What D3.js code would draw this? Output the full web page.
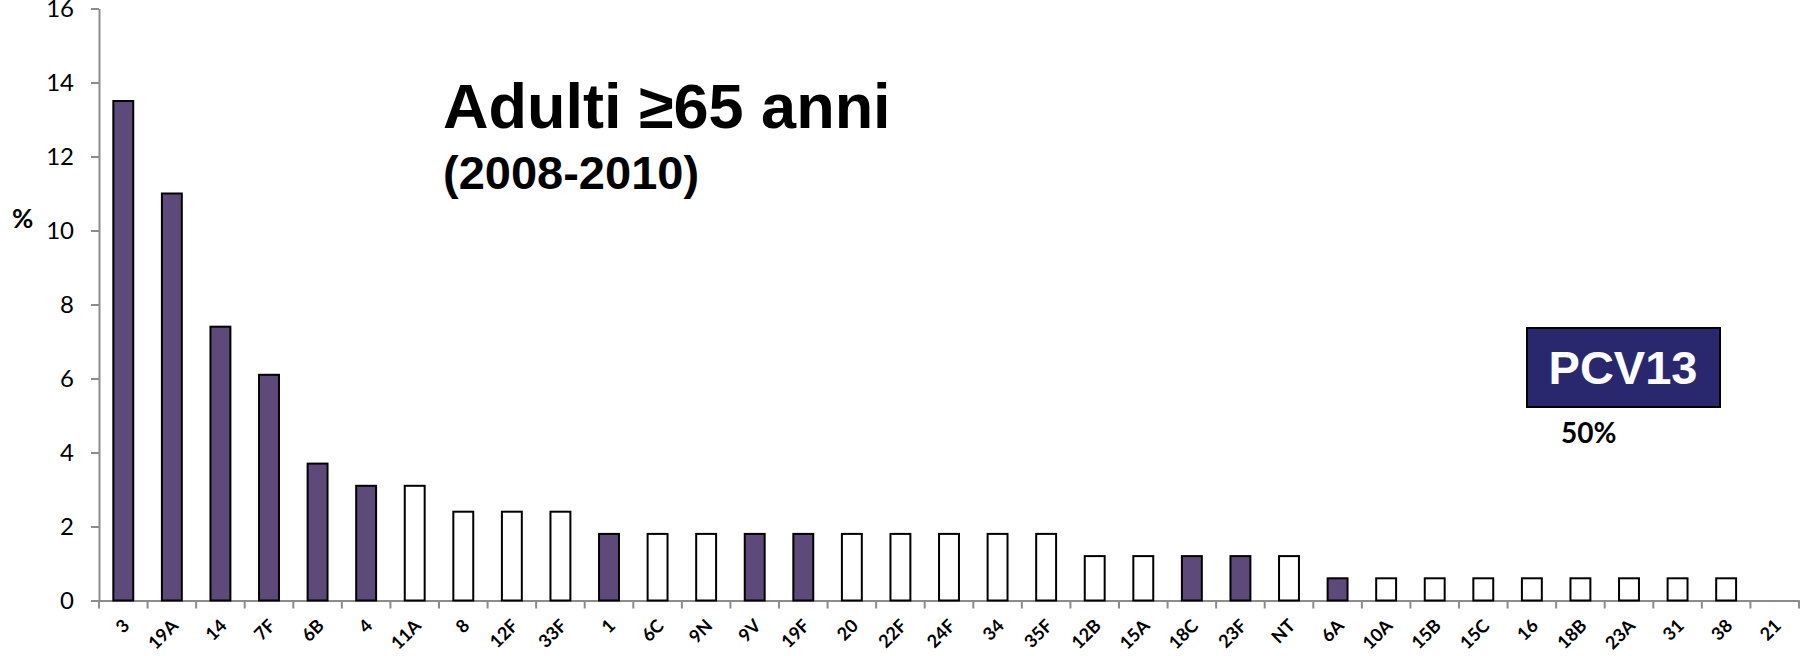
<!DOCTYPE html>
<html lang="it">
<head>
    <meta charset="UTF-8">
    <title>Adulti ≥65 anni (2008-2010)</title>
    <script src="https://cdn.jsdelivr.net/npm/d3@7/dist/d3.min.js"></script>
    <style>
        body {
            margin: 0;
            background: #fff;
        }

        svg {
            display: block;
        }

        .axis path,
        .axis line {
            stroke: #8c8c8c;
            stroke-width: 2px;
        }

        .y-axis text {
            font-family: Lato, "Open Sans", sans-serif;
            font-size: 24px;
            fill: #000;
        }

        .x-axis text {
            font-family: Lato, "Open Sans", sans-serif;
            font-size: 18px;
            font-weight: bold;
            fill: #000;
        }

        .bar {
            stroke: #000;
            stroke-width: 2px;
        }
    </style>
</head>
<body>
<script>
    // serotypes, in the order they appear on the axis
    const serotypes = ["3", "19A", "14", "7F", "6B", "4", "11A", "8", "12F", "33F",
        "1", "6C", "9N", "9V", "19F", "20", "22F", "24F", "34", "35F",
        "12B", "15A", "18C", "23F", "NT", "6A", "10A", "15B", "15C", "16",
        "18B", "23A", "31", "38", "21"];

    // percentage of isolates
    const percent = [13.5, 11.0, 7.4, 6.1, 3.7, 3.1, 3.1, 2.4, 2.4, 2.4,
        1.8, 1.8, 1.8, 1.8, 1.8, 1.8, 1.8, 1.8, 1.8, 1.8,
        1.2, 1.2, 1.2, 1.2, 1.2, 0.6, 0.6, 0.6, 0.6, 0.6,
        0.6, 0.6, 0.6, 0.6, 0];

    // serotypes covered by PCV13 (filled bars)
    const pcv13 = ["3", "19A", "14", "7F", "6B", "4", "1", "9V", "19F", "18C", "23F", "6A"];

    const yTicks = [0, 2, 4, 6, 8, 10, 12, 14, 16];

    const data = serotypes.map((s, i) => ({ serotype: s, value: percent[i] }));

    const width = 1806;
    const height = 656;

    const svg = d3.select("body").append("svg")
        .attr("width", width)
        .attr("height", height);

    const x = d3.scaleBand()
        .domain(serotypes)
        .range([99, 1799])
        .paddingInner(0.59)
        .paddingOuter(0.295);

    const y = d3.scaleLinear()
        .domain([0, 16])
        .range([600.5, 8.5]);

    // y axis
    svg.append("g")
        .attr("class", "axis y-axis")
        .attr("transform", "translate(99,0)")
        .call(d3.axisLeft(y).tickValues(yTicks).tickSize(8).tickPadding(17).tickSizeOuter(0));

    // x axis: labels under each bar, tick marks on the band boundaries
    const step = x.step();
    const xAxis = svg.append("g")
        .attr("class", "axis x-axis")
        .attr("transform", "translate(0," + y(0) + ")")
        .call(d3.axisBottom(x).tickSize(0).tickSizeOuter(0));

    xAxis.selectAll(".tick text")
        .attr("x", 0)
        .attr("y", 0)
        .attr("dy", "0.35em")
        .attr("text-anchor", "end")
        .attr("transform", "translate(3,22) rotate(-45)");

    xAxis.selectAll(".boundary")
        .data(d3.range(serotypes.length + 1))
        .enter().append("line")
        .attr("class", "boundary")
        .attr("x1", i => x.range()[0] + i * step)
        .attr("x2", i => x.range()[0] + i * step)
        .attr("y1", 0)
        .attr("y2", 8);

    // bars
    svg.append("g")
        .selectAll("rect")
        .data(data)
        .enter().append("rect")
        .attr("class", "bar")
        .attr("x", d => x(d.serotype))
        .attr("width", x.bandwidth())
        .attr("y", d => y(d.value))
        .attr("height", d => y(0) - y(d.value))
        .attr("fill", d => pcv13.includes(d.serotype) ? "#5e4a7a" : "#fff")
        .style("display", d => d.value > 0 ? null : "none");

    // y axis title
    svg.append("text")
        .attr("x", 12)
        .attr("y", 228)
        .style("font-family", "Lato, sans-serif")
        .style("font-size", "26px")
        .style("font-weight", "bold")
        .text("%");

    // titles
    svg.append("text")
        .attr("x", 443)
        .attr("y", 128)
        .style("font-family", "'Liberation Sans', Arial, sans-serif")
        .style("font-size", "63px")
        .style("font-weight", "bold")
        .text("Adulti ≥65 anni");

    svg.append("text")
        .attr("x", 443)
        .attr("y", 189)
        .style("font-family", "'Liberation Sans', Arial, sans-serif")
        .style("font-size", "47px")
        .style("font-weight", "bold")
        .text("(2008-2010)");

    // PCV13 box
    svg.append("rect")
        .attr("x", 1527)
        .attr("y", 328)
        .attr("width", 193)
        .attr("height", 79)
        .attr("fill", "#29286f")
        .attr("stroke", "#000")
        .attr("stroke-width", 2);

    svg.append("text")
        .attr("x", 1623)
        .attr("y", 384)
        .attr("text-anchor", "middle")
        .style("font-family", "'Liberation Sans', Arial, sans-serif")
        .style("font-size", "47px")
        .style("font-weight", "bold")
        .style("fill", "#fff")
        .text("PCV13");

    svg.append("text")
        .attr("x", 1561)
        .attr("y", 443)
        .style("font-family", "Lato, sans-serif")
        .style("font-size", "28px")
        .style("font-weight", "bold")
        .text("50%");
</script>
</body>
</html>
